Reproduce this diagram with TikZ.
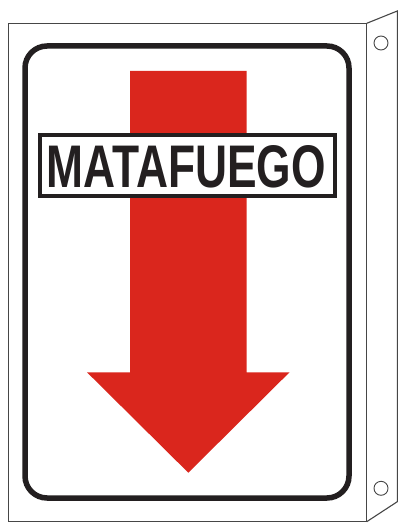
\documentclass[tikz,border=0pt]{standalone}
\usepackage{fontspec}
\setmainfont{Liberation Sans}
\usepackage{graphicx}
\definecolor{signred}{RGB}{218,38,29}
\definecolor{ink}{RGB}{35,31,32}
\definecolor{edge}{RGB}{70,70,70}
\begin{document}
\begin{tikzpicture}[x=1pt,y=-1pt,
  thinedge/.style={draw=edge,line width=1.1pt,line join=miter},
  frameline/.style={draw=ink,line width=5.5pt,rounded corners=22pt},
  labelbox/.style={draw=ink,fill=white,line width=4pt}]
\useasboundingbox (0,0) rectangle (411,532);
% panel and flange
\draw[thinedge,fill=white] (8.3,23.3) rectangle (366.7,521.7);
\draw[thinedge] (366.7,23.3) -- (397.3,11) -- (397.3,501.7) -- (366.7,521.7);
\draw[thinedge,line width=0.9pt] (381,43) circle (7);
\draw[thinedge,line width=0.9pt] (381,488.3) circle (7);
% inner frame
\draw[frameline] (25,46) rectangle (349,498);
% arrow
\fill[signred] (130,71) -- (246.7,71) -- (246.7,372.3) -- (289.5,372.3)
  -- (188.3,472.7) -- (87,372.3) -- (130,372.3) -- cycle;
% label
\draw[labelbox] (40.3,134.5) rectangle (334.7,195.5);
\node[inner sep=0pt,anchor=base west,text=ink] (label) at (46.5,187.7)
  {\resizebox{279pt}{42pt}{\bfseries MATAFUEGO}};
\end{tikzpicture}
\end{document}
